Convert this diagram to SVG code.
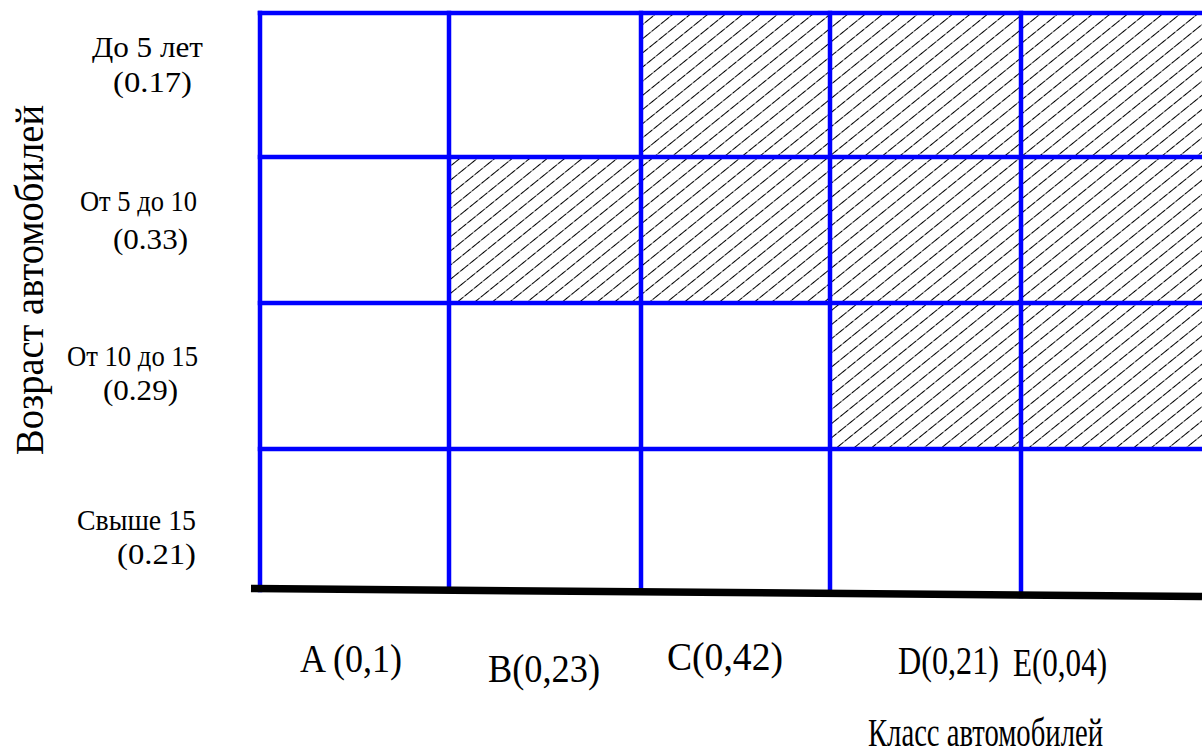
<svg xmlns="http://www.w3.org/2000/svg" width="1202" height="753" viewBox="0 0 1202 753">
  <defs>
    <pattern id="hatch" patternUnits="userSpaceOnUse" width="12" height="11" patternTransform="rotate(-39)">
      <line x1="-1" y1="5.5" x2="13" y2="5.5" stroke="#000000" stroke-width="1.2" stroke-dasharray="6.5 1"/>
    </pattern>
    <style>
      .grid { stroke: #0000ff; stroke-width: 4.5; fill: none; stroke-linecap: square; }
      .hatch { fill: url(#hatch); stroke: none; }
      text { font-family: "Liberation Serif", "Times New Roman", "DejaVu Serif", serif; fill: #000; }
      .row { font-size: 30px; }
      .col { font-size: 40px; }
    </style>
  </defs>
  <rect width="1202" height="753" fill="#ffffff"/>

  <g id="hatched-cells">
    <rect class="hatch" x="641" y="13" width="561" height="144"/>
    <rect class="hatch" x="449" y="157" width="753" height="146"/>
    <rect class="hatch" x="830" y="303" width="372" height="146"/>
  </g>

  <g id="grid">
    <line class="grid" x1="260" y1="13" x2="1202" y2="13"/>
    <line class="grid" x1="260" y1="157" x2="1202" y2="157"/>
    <line class="grid" x1="260" y1="303" x2="1202" y2="303"/>
    <line class="grid" x1="260" y1="449" x2="1202" y2="449"/>
    <line class="grid" x1="260" y1="13" x2="260" y2="590"/>
    <line class="grid" x1="449" y1="13" x2="449" y2="590"/>
    <line class="grid" x1="641" y1="13" x2="641" y2="592"/>
    <line class="grid" x1="830" y1="13" x2="830" y2="594"/>
    <line class="grid" x1="1021" y1="13" x2="1021" y2="596"/>
  </g>

  <g id="baseline-axis">
    <line x1="251" y1="588.5" x2="1202" y2="596.5" stroke="#000" stroke-width="7.5"/>
  </g>

  <g id="row-labels">
    <g id="row-1">
      <text class="row" x="92" y="57" textLength="111" lengthAdjust="spacingAndGlyphs">До 5 лет</text>
      <text class="row" x="113" y="92" textLength="79" lengthAdjust="spacingAndGlyphs">(0.17)</text>
    </g>
    <g id="row-2">
      <text class="row" x="80" y="211" textLength="117" lengthAdjust="spacingAndGlyphs">От 5 до 10</text>
      <text class="row" x="113" y="249" textLength="75" lengthAdjust="spacingAndGlyphs">(0.33)</text>
    </g>
    <g id="row-3">
      <text class="row" x="67" y="366" textLength="131" lengthAdjust="spacingAndGlyphs">От 10 до 15</text>
      <text class="row" x="103" y="400" textLength="75" lengthAdjust="spacingAndGlyphs">(0.29)</text>
    </g>
    <g id="row-4">
      <text class="row" x="77" y="530" textLength="119" lengthAdjust="spacingAndGlyphs">Свыше 15</text>
      <text class="row" x="117" y="564" textLength="79" lengthAdjust="spacingAndGlyphs">(0.21)</text>
    </g>
  </g>

  <g id="column-labels">
    <text class="col" id="col-a" x="300" y="672" textLength="102" lengthAdjust="spacingAndGlyphs">A (0,1)</text>
    <text class="col" id="col-b" x="488" y="682" textLength="112" lengthAdjust="spacingAndGlyphs">B(0,23)</text>
    <text class="col" id="col-c" x="667" y="670" textLength="116" lengthAdjust="spacingAndGlyphs">C(0,42)</text>
    <text class="col" id="col-d" x="898" y="674" textLength="101" lengthAdjust="spacingAndGlyphs">D(0,21)</text>
    <text class="col" id="col-e" x="1013" y="676" textLength="94" lengthAdjust="spacingAndGlyphs">E(0,04)</text>
  </g>

  <g id="axis-titles">
    <text id="x-title" x="868" y="746" font-size="41" textLength="235" lengthAdjust="spacingAndGlyphs">Класс автомобилей</text>
    <text id="y-title" transform="translate(43,455) rotate(-90)" x="0" y="0" font-size="39" textLength="350" lengthAdjust="spacingAndGlyphs">Возраст автомобилей</text>
  </g>
</svg>
